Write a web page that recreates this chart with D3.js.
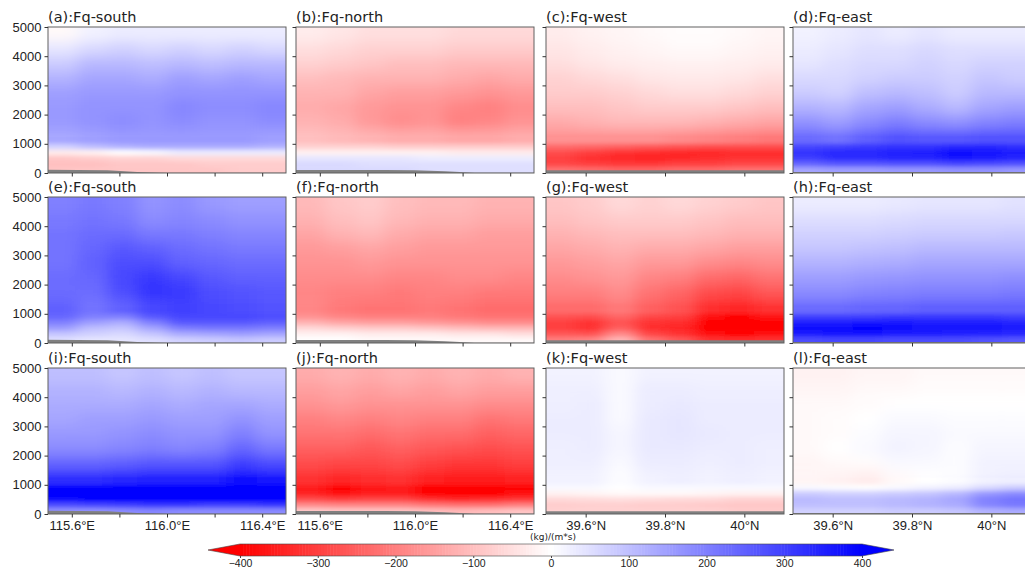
<!DOCTYPE html>
<html>
<head>
<meta charset="utf-8">
<script src="https://cdn.jsdelivr.net/npm/d3@7"></script>
<style>
  html, body { margin: 0; padding: 0; background: #fff; }
  svg { display: block; font-family: "DejaVu Sans", sans-serif; }
</style>
</head>
<body>
<svg id="chart" width="1025" height="577"></svg>
<script>
// ---------------- DATA ----------------
// height bin edges (m)
const heightEdges = [0, 200, 400, 600, 800, 1000, 1500, 2000, 2500, 3000, 3500, 4000, 4500, 5000];
// horizontal bin edges
const lonEdges = [115.5, 115.625, 115.75, 115.875, 116.0, 116.125, 116.25, 116.375, 116.5];
const latEdges = [39.5, 39.575, 39.65, 39.725, 39.8, 39.875, 39.95, 40.025, 40.1];

// tick values / labels
const heightTicks = [0, 1000, 2000, 3000, 4000, 5000];
const lonTicks = [115.6, 115.8, 116.0, 116.2, 116.4];
const lonTickLabels = ["115.6°E", "", "116.0°E", "", "116.4°E"];
const latTicks = [39.6, 39.8, 40.0];
const latTickLabels = ["39.6°N", "39.8°N", "40°N"];
const cbarTicks = [-400, -300, -200, -100, 0, 100, 200, 300, 400];
const cbarTickLabels = ["\u2212400", "\u2212300", "\u2212200", "\u2212100", "0", "100", "200", "300", "400"];
const unitLabel = "(kg)/(m*s)";

// titles
const titles = ["(a):Fq-south", "(b):Fq-north", "(c):Fq-west", "(d):Fq-east",
                "(e):Fq-south", "(f):Fq-north", "(g):Fq-west", "(h):Fq-east",
                "(i):Fq-south", "(j):Fq-north", "(k):Fq-west", "(l):Fq-east"];

// terrain height (m) at the horizontal bin edges
const terrainSouth = [110, 100, 90, 30, 10, 5, 5, 5, 5];
const terrainNorth = [100, 100, 100, 100, 90, 60, 10, 5, 5];
const terrainWest  = [90, 90, 90, 90, 90, 90, 90, 90, 90];
const terrainEast  = [30, 30, 30, 30, 30, 30, 30, 30, 30];

// flux grids, rows from top (4500-5000 m) to bottom (0-200 m), 8 columns west/south -> east/north
const gridA = [
  [-10, 20, 30, 30, 30, 30, 30, 30],
  [40, 60, 70, 60, 70, 60, 70, 60],
  [80, 110, 110, 100, 110, 100, 110, 110],
  [120, 140, 140, 130, 150, 140, 150, 140],
  [150, 160, 160, 160, 170, 170, 170, 170],
  [160, 170, 170, 170, 190, 180, 180, 190],
  [160, 170, 180, 170, 180, 170, 170, 180],
  [140, 150, 160, 160, 160, 160, 160, 150],
  [70, 100, 120, 130, 130, 130, 130, 120],
  [-30, -20, 0, 10, 30, 30, 30, 30],
  [-90, -80, -70, -70, -60, -60, -60, -60],
  [-100, -100, -90, -90, -90, -80, -80, -80],
  [-90, -90, -90, -90, -90, -90, -80, -80]
];
const gridB = [
  [-30, -40, -50, -50, -50, -60, -60, -60],
  [-50, -60, -70, -70, -70, -80, -80, -80],
  [-70, -80, -90, -100, -100, -110, -110, -110],
  [-100, -110, -120, -120, -120, -130, -140, -130],
  [-120, -120, -140, -150, -150, -160, -170, -160],
  [-130, -140, -160, -170, -170, -190, -200, -180],
  [-120, -130, -160, -180, -170, -200, -190, -170],
  [-100, -110, -120, -130, -130, -140, -140, -130],
  [-70, -70, -70, -80, -80, -80, -80, -80],
  [-20, -20, -20, -20, -20, -30, -30, -30],
  [40, 40, 40, 40, 30, 30, 30, 30],
  [60, 60, 50, 50, 50, 50, 50, 50],
  [60, 60, 60, 60, 50, 50, 50, 50]
];
const gridC = [
  [-30, -20, -15, -10, -5, -5, -10, -15],
  [-40, -30, -20, -15, -10, -10, -15, -20],
  [-50, -40, -30, -25, -20, -20, -25, -30],
  [-70, -60, -50, -40, -35, -35, -40, -50],
  [-80, -80, -70, -60, -50, -50, -60, -70],
  [-100, -100, -90, -80, -80, -80, -90, -100],
  [-130, -120, -110, -110, -110, -120, -130, -140],
  [-170, -170, -170, -170, -180, -190, -200, -210],
  [-230, -240, -250, -260, -270, -280, -280, -280],
  [-280, -300, -320, -330, -340, -340, -330, -330],
  [-300, -330, -340, -350, -340, -330, -320, -320],
  [-290, -300, -310, -310, -300, -300, -290, -290],
  [-220, -230, -240, -240, -230, -230, -220, -220]
];
const gridD = [
  [20, 30, 40, 30, 40, 30, 30, 30],
  [30, 40, 50, 50, 60, 50, 50, 50],
  [40, 50, 60, 60, 70, 60, 70, 70],
  [60, 60, 70, 80, 80, 70, 90, 80],
  [80, 70, 100, 110, 100, 80, 110, 110],
  [120, 110, 140, 150, 130, 110, 140, 150],
  [170, 150, 180, 200, 180, 170, 190, 200],
  [230, 220, 250, 270, 260, 260, 270, 270],
  [290, 300, 310, 320, 320, 340, 340, 330],
  [320, 340, 340, 350, 360, 380, 370, 360],
  [300, 330, 330, 340, 340, 370, 360, 340],
  [240, 260, 260, 270, 270, 290, 280, 270],
  [140, 150, 150, 160, 160, 170, 170, 160]
];
const gridE = [
  [200, 210, 200, 170, 180, 160, 150, 150],
  [210, 220, 210, 180, 190, 180, 170, 170],
  [220, 230, 230, 210, 210, 200, 190, 190],
  [220, 240, 260, 250, 230, 220, 210, 210],
  [220, 250, 280, 280, 250, 240, 230, 230],
  [230, 240, 290, 310, 290, 260, 250, 250],
  [230, 230, 280, 320, 310, 280, 270, 260],
  [250, 220, 250, 290, 300, 290, 280, 270],
  [240, 200, 200, 260, 290, 290, 290, 280],
  [200, 150, 130, 200, 260, 260, 260, 250],
  [150, 100, 90, 140, 200, 210, 210, 200],
  [90, 70, 60, 90, 130, 140, 150, 140],
  [50, 40, 40, 50, 70, 80, 90, 80]
];
const gridF = [
  [-110, -90, -80, -100, -110, -110, -120, -120],
  [-120, -100, -90, -110, -120, -120, -130, -130],
  [-140, -120, -110, -130, -140, -140, -150, -150],
  [-160, -150, -140, -150, -160, -160, -160, -160],
  [-170, -170, -160, -170, -170, -170, -170, -170],
  [-180, -180, -180, -190, -190, -180, -180, -190],
  [-190, -200, -200, -210, -200, -200, -210, -210],
  [-190, -210, -220, -220, -210, -220, -230, -230],
  [-170, -190, -200, -200, -200, -210, -220, -220],
  [-120, -140, -150, -150, -160, -170, -180, -180],
  [-60, -70, -80, -80, -90, -100, -110, -110],
  [-20, -20, -30, -30, -30, -40, -40, -50],
  [0, 0, -10, -10, -10, -10, -10, -10]
];
const gridG = [
  [-90, -80, -60, -70, -60, -70, -80, -90],
  [-100, -90, -80, -80, -80, -90, -100, -100],
  [-120, -110, -100, -100, -100, -110, -120, -120],
  [-140, -130, -120, -130, -130, -140, -150, -150],
  [-160, -150, -140, -160, -160, -180, -190, -180],
  [-180, -170, -160, -190, -200, -230, -240, -220],
  [-200, -200, -180, -220, -240, -280, -290, -260],
  [-230, -230, -210, -250, -270, -330, -340, -320],
  [-270, -280, -240, -290, -300, -380, -390, -370],
  [-300, -320, -270, -320, -330, -400, -410, -400],
  [-300, -320, -250, -330, -340, -400, -410, -400],
  [-260, -270, -180, -290, -320, -380, -390, -380],
  [-200, -190, -110, -220, -260, -320, -330, -320]
];
const gridH = [
  [30, 30, 30, 35, 40, 40, 40, 45],
  [50, 50, 50, 55, 60, 60, 60, 60],
  [70, 70, 70, 75, 80, 80, 80, 85],
  [90, 90, 95, 100, 110, 110, 110, 110],
  [120, 120, 125, 130, 140, 140, 140, 140],
  [150, 150, 160, 165, 170, 170, 170, 175],
  [180, 180, 190, 195, 200, 200, 200, 205],
  [230, 230, 240, 240, 250, 250, 250, 250],
  [300, 300, 300, 310, 310, 310, 310, 300],
  [360, 360, 370, 370, 360, 360, 360, 350],
  [380, 380, 390, 380, 370, 370, 370, 360],
  [360, 370, 370, 360, 360, 350, 350, 340],
  [280, 290, 290, 280, 280, 280, 270, 260]
];
const gridI = [
  [100, 100, 90, 100, 90, 100, 90, 90],
  [120, 120, 110, 120, 110, 120, 110, 110],
  [130, 130, 130, 140, 130, 140, 140, 130],
  [140, 150, 150, 160, 150, 150, 170, 150],
  [160, 160, 170, 180, 170, 170, 200, 170],
  [180, 180, 190, 200, 190, 200, 240, 210],
  [240, 240, 250, 260, 260, 260, 300, 280],
  [330, 330, 340, 350, 350, 350, 380, 370],
  [390, 390, 390, 400, 400, 400, 410, 410],
  [410, 410, 410, 410, 420, 410, 420, 420],
  [380, 390, 390, 400, 400, 390, 400, 400],
  [280, 290, 300, 310, 310, 300, 300, 310],
  [170, 170, 180, 190, 180, 180, 180, 180]
];
const gridJ = [
  [-130, -120, -130, -120, -130, -120, -130, -120],
  [-150, -140, -150, -140, -150, -140, -150, -150],
  [-170, -160, -170, -170, -170, -170, -180, -180],
  [-200, -190, -200, -190, -200, -200, -220, -210],
  [-220, -220, -230, -220, -230, -230, -250, -240],
  [-250, -250, -260, -250, -260, -270, -280, -270],
  [-280, -290, -290, -280, -300, -310, -310, -300],
  [-320, -340, -330, -320, -350, -360, -360, -350],
  [-360, -390, -370, -360, -400, -410, -410, -390],
  [-350, -380, -360, -360, -390, -410, -400, -380],
  [-280, -300, -290, -290, -320, -340, -330, -310],
  [-180, -190, -190, -190, -210, -220, -220, -200],
  [-80, -90, -90, -90, -100, -110, -100, -90]
];
const gridK = [
  [20, 20, 10, 20, 20, 20, 20, 20],
  [25, 25, 10, 30, 30, 25, 25, 25],
  [25, 30, 10, 30, 35, 30, 30, 30],
  [30, 30, 10, 35, 40, 30, 30, 30],
  [30, 30, 15, 35, 40, 35, 30, 30],
  [25, 30, 15, 35, 35, 30, 30, 25],
  [25, 25, 10, 30, 30, 25, 30, 25],
  [20, 20, 5, 20, 25, 20, 25, 20],
  [10, 10, 0, 10, 10, 10, 10, 10],
  [-20, -15, -10, -10, -10, -15, -20, -20],
  [-60, -55, -50, -55, -60, -60, -70, -70],
  [-80, -75, -75, -80, -80, -85, -90, -90],
  [-70, -70, -70, -70, -70, -70, -80, -80]
];
const gridL = [
  [-20, -20, -15, -15, -10, -10, -10, -10],
  [-15, -15, -10, -10, -5, -5, -5, -5],
  [-10, -10, -5, 0, 0, 0, 0, 0],
  [-10, -5, 0, 10, 10, 5, 5, 5],
  [-10, -5, 5, 15, 15, 10, 10, 10],
  [-10, 0, 10, 20, 15, 5, 15, 15],
  [-15, -10, -5, 10, 10, 5, 20, 20],
  [-15, -20, -30, -10, 0, 5, 20, 25],
  [10, 5, 0, 10, 20, 30, 60, 80],
  [80, 70, 70, 80, 90, 110, 160, 180],
  [110, 100, 100, 110, 120, 140, 200, 220],
  [100, 100, 100, 110, 120, 130, 190, 210],
  [70, 70, 70, 80, 80, 90, 120, 130]
];

const grids = [gridA, gridB, gridC, gridD, gridE, gridF, gridG, gridH, gridI, gridJ, gridK, gridL];
const colKinds = ["lon", "lon", "lat", "lat"];
const colTerrain = [terrainSouth, terrainNorth, terrainWest, terrainEast];
const seamHeight = 1250; // where the smoothing of upper (coarse) and lower (fine) layers meet

// ---------------- LAYOUT ----------------
const colX = [48, 296, 546, 793];
const rowY = [27, 197, 368];
const PW = 238, PH = 146;

const svg = d3.select("#chart");
const defs = svg.append("defs");
const blurUp = defs.append("filter").attr("id", "smoothUp")
  .attr("x", "-20%").attr("y", "-20%").attr("width", "140%").attr("height", "140%");
blurUp.append("feGaussianBlur").attr("stdDeviation", "8 6");
const blurLow = defs.append("filter").attr("id", "smoothLow")
  .attr("x", "-20%").attr("y", "-20%").attr("width", "140%").attr("height", "140%");
blurLow.append("feGaussianBlur").attr("stdDeviation", "8 2");

const color = d3.scaleLinear()
  .domain([-400, 0, 400])
  .range(["#ff0000", "#ffffff", "#0000ff"])
  .clamp(true);

grids.forEach((grid, i) => {
  const r = Math.floor(i / 4), c = i % 4;
  const kind = colKinds[c];
  const edges = kind === "lon" ? lonEdges : latEdges;
  const x0 = colX[c], y0 = rowY[r];
  const x = d3.scaleLinear().domain([edges[0], edges[edges.length - 1]]).range([x0, x0 + PW]);
  const y = d3.scaleLinear().domain([0, 5000]).range([y0 + PH, y0]);
  const pad = 25;

  const nRows = grid.length;
  const cells = [];
  grid.forEach((row, ri) => {
    const hb = nRows - 1 - ri;
    row.forEach((v, ci) => cells.push({ hb, ci, v }));
  });

  // two layers: upper part smoothed more strongly, lower part finer
  const parts = [
    { id: "up", top: 5000, bot: seamHeight, filter: "smoothUp" },
    { id: "low", top: seamHeight, bot: 0, filter: "smoothLow" }
  ];
  parts.forEach(p => {
    const clipId = `clip${i}${p.id}`;
    defs.append("clipPath").attr("id", clipId)
      .append("rect").attr("x", x0).attr("y", y(p.top))
      .attr("width", PW).attr("height", y(p.bot) - y(p.top) + (p.id === "up" ? 0.5 : 0));
    const outer = svg.append("g").attr("clip-path", `url(#${clipId})`);
    const inner = outer.append("g").attr("filter", `url(#${p.filter})`);
    inner.selectAll("rect").data(cells).join("rect")
      .attr("x", d => x(edges[d.ci]) - (d.ci === 0 ? pad : 0))
      .attr("width", d => x(edges[d.ci + 1]) - x(edges[d.ci]) + (d.ci === 0 ? pad : 0) + (d.ci === edges.length - 2 ? pad : 0.6))
      .attr("y", d => y(heightEdges[d.hb + 1]) - (d.hb === heightEdges.length - 2 ? pad : 0))
      .attr("height", d => y(heightEdges[d.hb]) - y(heightEdges[d.hb + 1]) + (d.hb === heightEdges.length - 2 ? pad : 0) + (d.hb === 0 ? pad : 0.6))
      .attr("fill", d => color(d.v));
  });

  // terrain
  const clipT = `clipT${i}`;
  defs.append("clipPath").attr("id", clipT)
    .append("rect").attr("x", x0).attr("y", y0).attr("width", PW).attr("height", PH);
  const terr = colTerrain[c];
  const area = d3.area()
    .x((d, k) => x(edges[k]))
    .y0(y(0))
    .y1(d => y(d));
  svg.append("g").attr("clip-path", `url(#${clipT})`)
    .append("path").datum(terr).attr("d", area).attr("fill", "#808080");

  // frame
  svg.append("rect").attr("x", x0).attr("y", y0).attr("width", PW).attr("height", PH)
    .attr("fill", "none").attr("stroke", "#606060").attr("stroke-width", 1);

  // y axis
  const ya = svg.append("g").attr("transform", `translate(${x0},0)`)
    .call(d3.axisLeft(y).tickValues(heightTicks).tickSize(3.5).tickPadding(3)
      .tickFormat(c === 0 ? d3.format("d") : () => ""));
  ya.select(".domain").remove();
  ya.selectAll("line").attr("stroke", "#333");
  ya.selectAll("text").attr("font-size", 13).attr("fill", "#222");

  // x axis
  const ticks = kind === "lon" ? lonTicks : latTicks;
  const labels = kind === "lon" ? lonTickLabels : latTickLabels;
  const xa = svg.append("g").attr("transform", `translate(0,${y0 + PH})`)
    .call(d3.axisBottom(x).tickValues(ticks).tickSize(3.5).tickPadding(3)
      .tickFormat((d, k) => r === 2 ? labels[k] : ""));
  xa.select(".domain").remove();
  xa.selectAll("line").attr("stroke", "#333");
  xa.selectAll("text").attr("font-size", 13).attr("fill", "#222");

  // title
  svg.append("text").attr("x", x0).attr("y", y0 - 5)
    .attr("font-size", 14.5).attr("fill", "#222").text(titles[i]);
});

// ---------------- COLORBAR ----------------
const cx = d3.scaleLinear().domain([-400, 400]).range([240, 862]);
const cbY = 544, cbH = 12, ext = 32;
const cb = svg.append("g");
const steps = d3.range(-400, 400, 4);
cb.selectAll("rect").data(steps).join("rect")
  .attr("x", d => cx(d)).attr("y", cbY)
  .attr("width", cx(4) - cx(0) + 0.5).attr("height", cbH)
  .attr("fill", d => color(d + 2));
cb.append("path")
  .attr("d", `M${cx(-400)},${cbY}L${cx(-400) - ext},${cbY + cbH / 2}L${cx(-400)},${cbY + cbH}Z`)
  .attr("fill", color(-400));
cb.append("path")
  .attr("d", `M${cx(400)},${cbY}L${cx(400) + ext},${cbY + cbH / 2}L${cx(400)},${cbY + cbH}Z`)
  .attr("fill", color(400));
cb.append("path")
  .attr("d", `M${cx(-400)},${cbY}L${cx(400)},${cbY}L${cx(400) + ext},${cbY + cbH / 2}L${cx(400)},${cbY + cbH}L${cx(-400)},${cbY + cbH}L${cx(-400) - ext},${cbY + cbH / 2}Z`)
  .attr("fill", "none").attr("stroke", "#444").attr("stroke-width", 0.6);
const cba = svg.append("g").attr("transform", `translate(0,${cbY + cbH})`)
  .call(d3.axisBottom(cx).tickValues(cbarTicks).tickSize(2).tickPadding(2)
    .tickFormat((d, k) => cbarTickLabels[k]));
cba.select(".domain").remove();
cba.selectAll("line").attr("stroke", "#444");
cba.selectAll("text").attr("font-size", 10.5).attr("fill", "#222");
svg.append("text").attr("x", cx(0) + 2).attr("y", cbY - 4)
  .attr("text-anchor", "middle").attr("font-size", 9).attr("fill", "#222").text(unitLabel);
</script>
</body>
</html>
